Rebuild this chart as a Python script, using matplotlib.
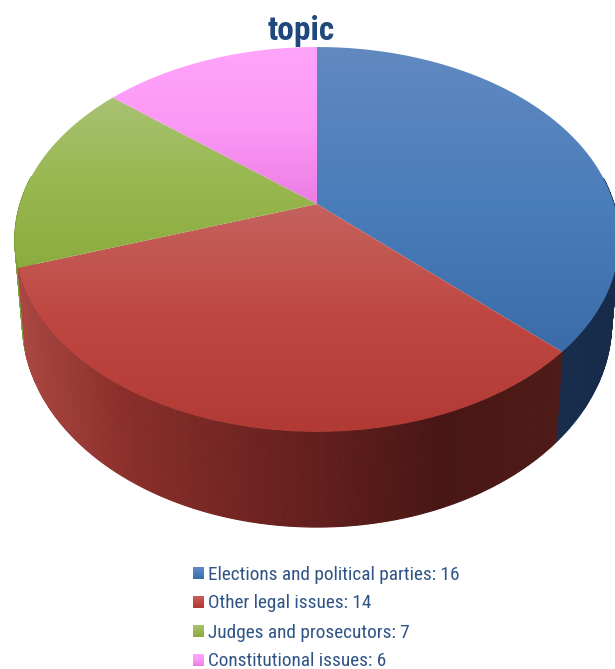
import numpy as np
import matplotlib
matplotlib.use('Agg')
import matplotlib.pyplot as plt
from matplotlib.colors import LinearSegmentedColormap
from matplotlib.patches import PathPatch, Polygon
from matplotlib.path import Path

# --- data ---
categories = ['Elections and political parties', 'Other legal issues',
              'Judges and prosecutors', 'Constitutional issues']
counts = [16, 14, 7, 6]
title_last_line = 'topic'

# top face gradients (upper, middle, lower) per slice
top_colors = [('#6289c0', '#4a7ebb', '#3a6ca9'),
              ('#c4625e', '#c04741', '#b23a35'),
              ('#a8c272', '#98b850', '#8cac40'),
              ('#ffa4fb', '#fc98f5', '#ec7de6')]
# side wall colour ramps, left to right on the page
side_colors = [[(0, '#1a3356'), (0.5, '#182e4e'), (1, '#172c4a')],
               [(0, '#ab4843'), (0.2, '#8a2f2b'), (0.5, '#68211f'), (0.78, '#481614'), (1, '#4f1b18')],
               [(0, '#7f9e3c'), (0.5, '#7a9a3a'), (1, '#76953a')],
               [(0, '#c070c0'), (1, '#c070c0')]]
legend_text_color = '#2f5485'
title_color = '#1f497d'

# pie placement in pixels, tilted with a simple perspective
W, H = 615, 669
CX, TOP_Y = 317, 204
RX, RY, K = 297, 185.9, 0.184
BOT_Y, BOT_SX, BOT_SY = 285, 0.975, 1.0625


def project(theta, bottom=False):
    # theta runs clockwise from twelve o'clock
    x = np.sin(theta)
    y = np.cos(theta)
    w = 1 + K * y
    px = RX * x / w
    py = RY * y / w
    if bottom:
        return CX + BOT_SX * px, BOT_Y - BOT_SY * py
    return CX + px, TOP_Y - py


fig = plt.figure(figsize=(W / 100, H / 100), dpi=100)
ax = fig.add_axes([0, 0, 1, 1])
ax.set_xlim(0, W)
ax.set_ylim(H, 0)
ax.axis('off')

edges = 2 * np.pi * np.concatenate([[0], np.cumsum(counts)]) / sum(counts)

# side wall: thin strips on the near half only, back ones first
strips = []
for i in range(len(counts)):
    ramp = LinearSegmentedColormap.from_list(f'side{i}', side_colors[i])
    steps = np.linspace(edges[i], edges[i + 1], int(np.degrees(edges[i + 1] - edges[i])) * 2 + 2)
    xa, _ = project(steps)
    lo, hi = xa.min(), xa.max()
    for t0, t1 in zip(steps[:-1], steps[1:]):
        if np.cos(t0) > 0.15:
            continue
        x0, y0 = project(np.array([t0, t1]))
        x1, y1 = project(np.array([t1, t0]), bottom=True)
        pts = np.column_stack([np.r_[x0, x1], np.r_[y0, y1]])
        mid = (pts[:, 0].mean() - lo) / max(hi - lo, 1)
        strips.append((pts[:, 1].mean(), pts, ramp(np.clip(mid, 0, 1))))
for _, pts, col in sorted(strips, key=lambda s: s[0]):
    ax.add_patch(Polygon(pts, closed=True, facecolor=col, edgecolor=col, linewidth=0.8, zorder=1))

# top face: each slice gets its own vertical gradient
for i in range(len(counts)):
    arc = np.linspace(edges[i], edges[i + 1], 200)
    xs, ys = project(arc)
    verts = np.column_stack([np.r_[CX, xs, CX], np.r_[TOP_Y, ys, TOP_Y]])
    clip = PathPatch(Path(verts), facecolor='none', edgecolor='none')
    ax.add_patch(clip)
    cmap = LinearSegmentedColormap.from_list(f'top{i}', top_colors[i])
    grad = np.linspace(0, 1, 256).reshape(-1, 1)
    im = ax.imshow(grad, cmap=cmap, aspect='auto', interpolation='bilinear', zorder=2,
                   extent=(verts[:, 0].min(), verts[:, 0].max(), verts[:, 1].max(), verts[:, 1].min()))
    im.set_clip_path(clip)

ax.text(301, 31, title_last_line, color=title_color, fontsize=24, fontweight='bold',
        family='Roboto Condensed', ha='center', va='center', zorder=3)

# legend
legend_y = [573, 602, 631, 660]
for i, (name, n) in enumerate(zip(categories, counts)):
    cmap = LinearSegmentedColormap.from_list(f'key{i}', top_colors[i])
    ax.imshow(np.linspace(0, 1, 32).reshape(-1, 1), cmap=cmap, aspect='auto', zorder=3,
              extent=(193, 204, legend_y[i] + 6, legend_y[i] - 6))
    ax.text(208, legend_y[i] + 1.5, f'{name}: {n}', color=legend_text_color, fontsize=13.9,
            family='Roboto Condensed', ha='left', va='center', zorder=3)
ax.set_xlim(0, W)
ax.set_ylim(H, 0)

fig.savefig('out.png', dpi=100)
